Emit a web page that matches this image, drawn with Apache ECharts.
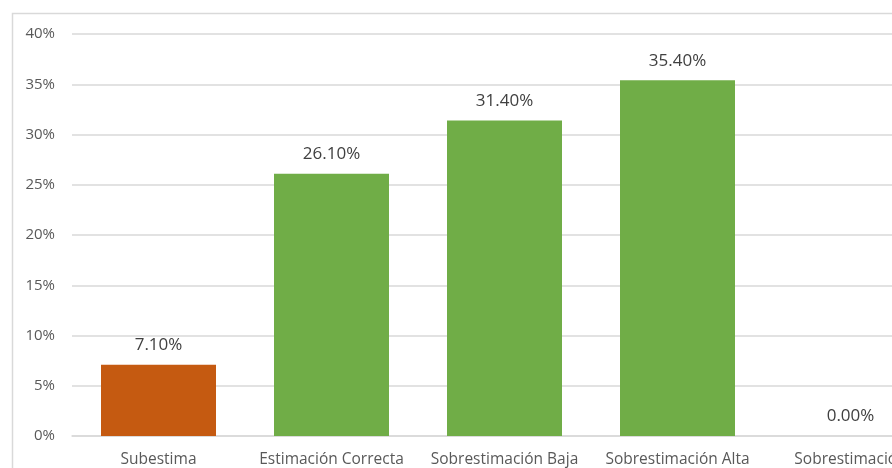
<!DOCTYPE html>
<html>
<head>
<meta charset="utf-8">
<script src="https://cdn.jsdelivr.net/npm/echarts@6/dist/echarts.min.js"></script>
<style>
  html, body { margin: 0; padding: 0; background: #ffffff; overflow: hidden; width: 892px; height: 468px; }
  #chart { width: 960px; height: 468px; }
</style>
</head>
<body>
<div id="chart"></div>
<script>
// Categories and percentages
const categories = ['Subestima', 'Estimación Correcta', 'Sobrestimación Baja', 'Sobrestimación Alta', 'Sobrestimación'];
const values = [7.10, 26.10, 31.40, 35.40, 0.00];
const barColors = ['#C55A11', '#70AD47', '#70AD47', '#70AD47', '#70AD47'];
const yTicks = { min: 0, max: 40, interval: 5 };

const chart = echarts.init(document.getElementById('chart'), null, { renderer: 'canvas' });

chart.setOption({
  backgroundColor: '#ffffff',
  animation: false,
  graphic: [{
    type: 'rect',
    left: 10, top: 11,
    shape: { width: 1000, height: 600 },
    style: { fill: 'none', stroke: '#d9d9d9', lineWidth: 1.5 },
    z: -1
  }],
  grid: { left: 72, top: 34, width: 865, height: 402, containLabel: false },
  xAxis: {
    type: 'category',
    data: categories,
    axisLine: { lineStyle: { color: '#d9d9d9', width: 1.5 } },
    axisTick: { show: false },
    axisLabel: {
      color: '#595959', fontFamily: 'Open Sans', fontSize: 15.5, margin: 16, interval: 0
    }
  },
  yAxis: {
    type: 'value',
    min: yTicks.min, max: yTicks.max, interval: yTicks.interval,
    axisLine: { show: false },
    axisTick: { show: false },
    splitLine: { lineStyle: { color: '#d9d9d9', width: 1.5 } },
    axisLabel: {
      color: '#595959', fontFamily: 'Open Sans', fontSize: 15, margin: 17,
      formatter: v => v + '%'
    }
  },
  series: [{
    type: 'bar',
    data: values.map((v, i) => ({ value: v, itemStyle: { color: barColors[i] } })),
    barWidth: 115,
    label: {
      show: true, position: 'top', distance: 11,
      color: '#404040', fontFamily: 'Open Sans', fontSize: 17,
      formatter: p => p.value.toFixed(2) + '%'
    }
  }]
});
</script>
</body>
</html>
